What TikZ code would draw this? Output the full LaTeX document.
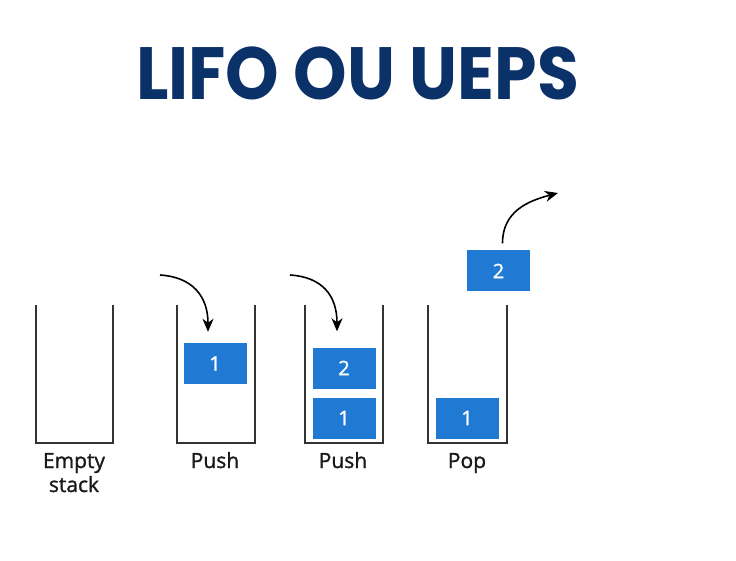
\documentclass[tikz,border=0pt]{standalone}
\usepackage{fontspec}
\setmainfont{Open Sans}
\newfontfamily\titlefont{Poppins}
\newfontfamily\labelfont{Open Sans}[FakeBold=1.2]
\usetikzlibrary{arrows.meta}

\definecolor{navy}{HTML}{0B3169}
\definecolor{boxblue}{HTML}{207AD3}
\definecolor{wallgray}{HTML}{333333}

\begin{document}
\begin{tikzpicture}[
  x=1pt, y=-1pt,
  item/.style={fill=boxblue, minimum width=63pt, minimum height=41pt, inner sep=0pt,
    text=white, font=\labelfont\fontsize{20}{22}\selectfont},
  wall/.style={draw=wallgray, line width=1.6pt},
  caption/.style={anchor=base, align=center, text=black!90, font=\labelfont\fontsize{21}{24}\selectfont},
  >={Stealth[length=13pt, width=11pt, inset=4pt]},
  move/.style={->, line width=1.6pt}
]
  \useasboundingbox (0,0) rectangle (736,561);

  % title
  \node[anchor=base, text=navy, font=\titlefont\bfseries\fontsize{74}{80}\selectfont] (title) at (357.5,100) {\scalebox{0.92}[1]{LIFO OU UEPS}};

  % the four stacks
  \foreach \l/\r in {36/113, 177/255, 305/383, 428/507}
    \draw[wall] (\l,305) |- (\r,443) -- (\r,305);

  % items
  \node[item] (b21) at (215,363.5) {1};
  \node[item] (b31) at (344,418) {1};
  \node[item] (b32) at (344,368) {2};
  \node[item] (b41) at (467,418) {1};
  \node[item] (p2)  at (498.5,271) {2};

  % arrows
  \coordinate (in2) at (160,275);
  \coordinate (in3) at (290,275);
  \coordinate (out4) at (558,193);
  \draw[move] (in2) .. controls +(32,2) and +(0,-36) .. ([xshift=-7pt,yshift=11pt]b21.north);
  \draw[move] (in3) .. controls +(32,2) and +(0,-36) .. ([xshift=-7pt,yshift=16pt]b32.north);
  \draw[move] ([xshift=4pt,yshift=7pt]p2.north) .. controls +(0,-32) and +(-30,8) .. (out4);

  % captions
  \node[caption] (c1) at (74,492) {Empty\\stack};
  \node[caption] (c2) at (215,468) {Push};
  \node[caption] (c3) at (343,468) {Push};
  \node[caption] (c4) at (467,468) {Pop};
\end{tikzpicture}
\end{document}
